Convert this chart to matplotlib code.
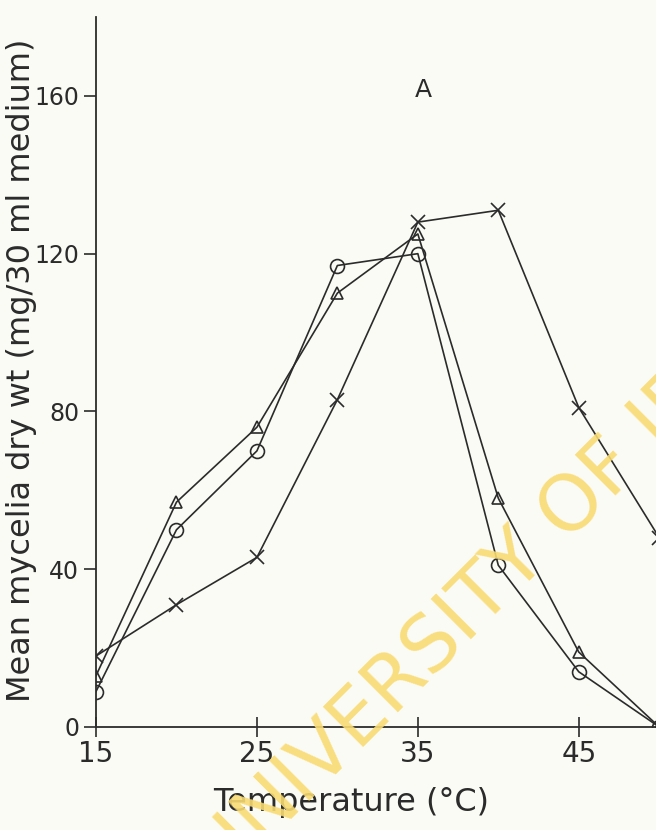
import matplotlib
matplotlib.use("Agg")
import matplotlib.pyplot as plt

# Data
temps = [15, 20, 25, 30, 35, 40, 45, 50]
triangle_vals = [13, 57, 76, 110, 125, 58, 19, 0]
circle_vals = [9, 50, 70, 117, 120, 41, 14, 0]
star_vals = [18, 31, 43, 83, 128, 131, 81, 48]
xticks = [15, 25, 35, 45]
yticks = [0, 40, 80, 120, 160]

bg = "#fbfbf5"
ink = "#2b2b2b"

fig = plt.figure(figsize=(6.56, 8.30), dpi=100, facecolor=bg)
ax = fig.add_axes([96/656, 1-727/830, 560/656, 710/830])
ax.set_facecolor(bg)

# watermark (partially outside the page, as in the scanned original)
fig.text(532, 282, "UNIVERSITY OF IBADAN", transform=None, fontsize=56,
         color="#f8db72", rotation=45, rotation_mode="anchor",
         ha="center", va="center", family="DejaVu Sans", zorder=0, alpha=0.9)

kw = dict(color=ink, lw=1.2, markerfacecolor="none", markeredgecolor=ink,
          markeredgewidth=1.2, zorder=3)
ax.plot(temps, triangle_vals, marker="^", ms=9, **kw)
ax.plot(temps, circle_vals, marker="o", ms=10, **kw)
ax.plot(temps, star_vals, marker="x", ms=10, **kw)

ax.set_xlim(15, 49.8)
ax.set_ylim(0, 180)
for s in ["top", "right"]:
    ax.spines[s].set_visible(False)
for s in ["left", "bottom"]:
    ax.spines[s].set_color(ink)
    ax.spines[s].set_linewidth(1.3)

ax.set_xticks(xticks)
ax.set_yticks(yticks)
ax.set_xticklabels([str(t) for t in xticks])
ax.set_yticklabels([str(t) for t in yticks])
ax.tick_params(axis="y", direction="out", colors=ink, labelsize=17,
               length=9, width=1.2, pad=3)
ax.tick_params(axis="x", direction="inout", colors=ink, labelsize=20,
               length=14, width=1.2, pad=2)

ax.set_xlabel("Temperature (°C)", fontsize=23, color=ink)
ax.xaxis.set_label_coords(0.455, -0.085)
ax.set_ylabel("Mean mycelia dry wt (mg/30 ml medium)", fontsize=23, color=ink)
ax.yaxis.set_label_coords(-0.105, 0.503)

ax.text(0.585, 0.897, "A", transform=ax.transAxes, fontsize=18, color=ink,
        ha="center", va="center")

fig.savefig("out.png", dpi=100, facecolor=bg)
